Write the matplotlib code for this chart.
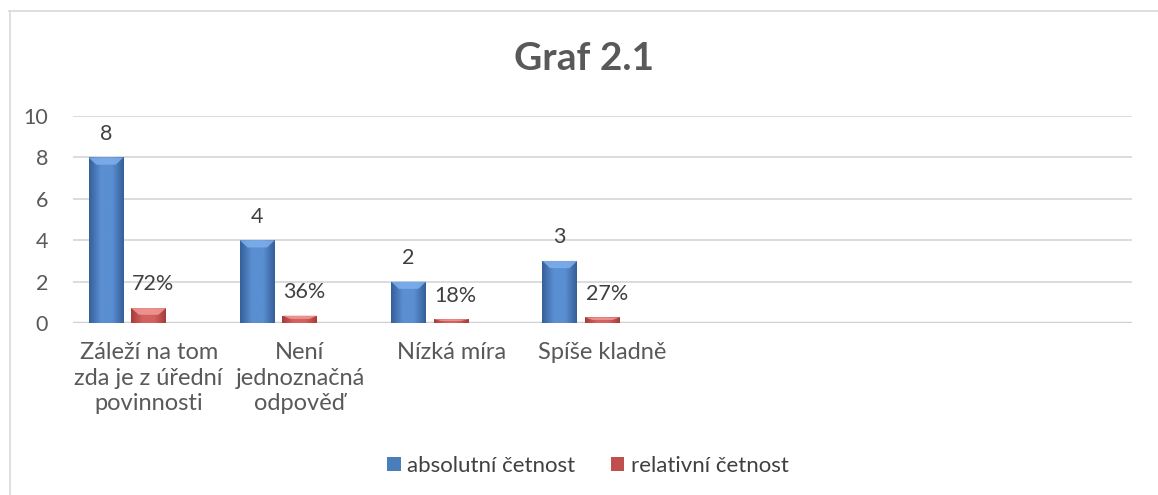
import numpy as np
import matplotlib
matplotlib.use("Agg")
import matplotlib.pyplot as plt
from matplotlib.patches import Polygon
from matplotlib.colors import LinearSegmentedColormap

plt.rcParams['font.family'] = ['Lato', 'DejaVu Sans']

# ---- data ----
categories = ["Záleží na tom\nzda je z úřední\npovinnosti",
              "Není\njednoznačná\nodpověď",
              "Nízká míra",
              "Spíše kladně"]
n_slots = 7  # category axis has 7 slots, only 4 filled
absolutni = [8, 4, 2, 3]
relativni = [0.72, 0.36, 0.18, 0.27]
relativni_labels = ["72%", "36%", "18%", "27%"]
series_names = ["absolutní četnost", "relativní četnost"]
yticks = [0, 2, 4, 6, 8, 10]
title = "Graf 2.1"

W, H = 1158, 495
fig = plt.figure(figsize=(W / 100, H / 100), dpi=100)
ax = fig.add_axes([73 / W, 172 / H, (1132 - 73) / W, (323 - 116) / H])

# border of chart area
fig.add_artist(plt.Line2D([9.5 / W, 9.5 / W], [0, 484 / H], color="#d9d9d9", lw=1.2))
fig.add_artist(plt.Line2D([9 / W, 1], [484 / H, 484 / H], color="#d9d9d9", lw=1.2))

bw = 0.231
offsets = [-0.282, 0.0]  # third (empty) series would sit at +0.282
x = np.arange(len(categories))

def shaded_bars(xs, vals, base, dark, light, top):
    cmap = LinearSegmentedColormap.from_list("g", [dark, light, light, dark])
    grad = np.linspace(0, 1, 64).reshape(1, -1)
    bars = ax.bar(xs, vals, width=bw, color=base, zorder=3, linewidth=0)
    for b in bars:
        x0, y0 = b.get_x(), b.get_y()
        w, h = b.get_width(), b.get_height()
        im = ax.imshow(grad, extent=[x0, x0 + w, y0, y0 + h], aspect="auto",
                       cmap=cmap, zorder=3.5, interpolation="bicubic")
        im.set_clip_path(b)
        bev = min(0.35, h * 0.45)
        ins = w * 0.22
        poly = Polygon([[x0, y0 + h], [x0 + w, y0 + h], [x0 + w - ins, y0 + h - bev],
                        [x0 + ins, y0 + h - bev]], closed=True, facecolor=top,
                       edgecolor="none", zorder=4, alpha=0.85)
        ax.add_patch(poly)
    return bars

b1 = shaded_bars(x + offsets[0], absolutni, "#4a7ebb", "#355f99", "#5a8fd2", "#7fb0ec")
b2 = shaded_bars(x + offsets[1], relativni, "#c0504d", "#a63c3a", "#d5625f", "#f09a97")

for xi, v in zip(x + offsets[0], absolutni):
    ax.annotate(str(v), (xi, v), xytext=(0, 17), textcoords="offset points",
                ha="center", va="center", fontsize=15.5, color="#404040")
for xi, v, lab in zip(x + offsets[1], relativni, relativni_labels):
    ax.annotate(lab, (xi + 0.03, v), xytext=(0, 17), textcoords="offset points",
                ha="center", va="center", fontsize=15.5, color="#404040")

ax.set_xlim(-0.5, n_slots - 0.5)
ax.set_ylim(0, 10)
ax.set_yticks(yticks)
ax.set_xticks(x)
ax.set_xticklabels(categories, fontsize=17, color="#595959", linespacing=1.25)
ax.tick_params(axis="x", length=0, pad=14)
ax.tick_params(axis="y", length=0, pad=18, labelsize=15.5, labelcolor="#595959")
for lab in ax.get_yticklabels():
    lab.set_horizontalalignment("right")
for s in ax.spines.values():
    s.set_visible(False)
ax.grid(axis="y", color="#d9d9d9", lw=1.3, zorder=0)
ax.axhline(0, color="#d0d0d0", lw=2.5, zorder=2)
ax.set_axisbelow(True)

fig.text(584 / W, 437 / H, title, ha="center", va="center", fontsize=28,
         fontweight="bold", color="#595959")

leg = fig.legend([b1, b2], series_names, loc="center", bbox_to_anchor=(588 / W, 29 / H),
                 ncol=2, frameon=False, fontsize=16, handlelength=0.6, handleheight=0.6,
                 handletextpad=0.3, columnspacing=1.6, labelcolor="#404040")

fig.savefig("out.png", dpi=100)
